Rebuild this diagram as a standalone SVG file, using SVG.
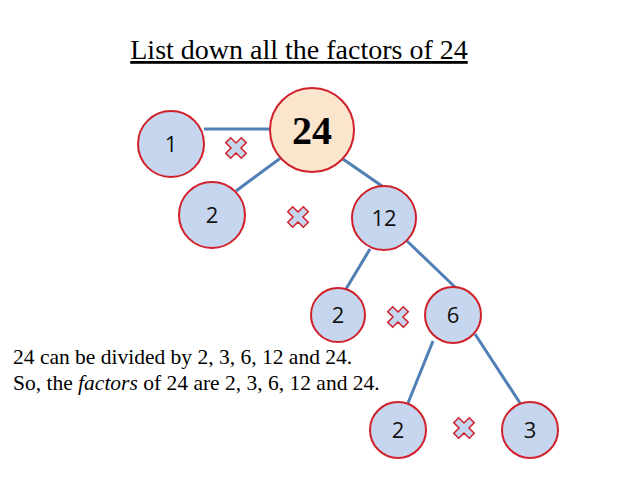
<svg xmlns="http://www.w3.org/2000/svg" width="638" height="479" viewBox="0 0 638 479">
<style>
.n{fill:#c6d6ee;stroke:#d0202a;stroke-width:2}
.t{font-family:"Open Sans","DejaVu Sans",sans-serif;font-size:22px;fill:#111;text-anchor:middle}
.s{font-family:"Liberation Serif",serif;fill:#000}
.x{fill:#c6d6ee;stroke:#d0202a;stroke-width:1.5}
#c line{stroke:#4f7fb5;stroke-width:3}
</style>
<defs><path id="X" d="M-3.5,-11 L3.5,-11 L3.5,-3.5 L11,-3.5 L11,3.5 L3.5,3.5 L3.5,11 L-3.5,11 L-3.5,3.5 L-11,3.5 L-11,-3.5 L-3.5,-3.5 Z" transform="rotate(45)"/></defs>
<rect width="638" height="479" fill="#fff"/>
<text class="s" x="299" y="59" font-size="28" text-anchor="middle" text-decoration="underline">List down all the factors of 24</text>
<g id="c">
<line x1="204" y1="129" x2="272" y2="129"/>
<line x1="282" y1="157" x2="236" y2="191"/>
<line x1="340" y1="157" x2="382" y2="186"/>
<line x1="370" y1="249" x2="346" y2="289"/>
<line x1="407" y1="241" x2="456" y2="288"/>
<line x1="433" y1="341" x2="408" y2="403"/>
<line x1="475" y1="334" x2="520" y2="403"/>
</g>
<g id="n24"><circle class="n" cx="312" cy="130" r="42" style="fill:#fce5cd"/><text x="312" y="144" font-family="Liberation Serif,serif" font-weight="bold" font-size="40" text-anchor="middle">24</text></g>
<g id="n1"><circle class="n" cx="171" cy="144" r="33"/><text class="t" x="171" y="152">1</text></g>
<g id="n2a"><circle class="n" cx="212" cy="215" r="33"/><text class="t" x="212" y="223">2</text></g>
<g id="n12"><circle class="n" cx="384" cy="218" r="32"/><text class="t" x="384" y="226">12</text></g>
<g id="n2b"><circle class="n" cx="338" cy="315" r="27"/><text class="t" x="338" y="323">2</text></g>
<g id="n6"><circle class="n" cx="453" cy="315" r="28"/><text class="t" x="453" y="323">6</text></g>
<g id="n2c"><circle class="n" cx="398" cy="430" r="28"/><text class="t" x="398" y="438">2</text></g>
<g id="n3"><circle class="n" cx="530" cy="430" r="28"/><text class="t" x="530" y="438">3</text></g>
<g id="crosses">
<use href="#X" class="x" x="236" y="148"/>
<use href="#X" class="x" x="298" y="217"/>
<use href="#X" class="x" x="398" y="317"/>
<use href="#X" class="x" x="464" y="428"/>
</g>
<g id="note" class="s" font-size="21.5">
<text x="13" y="364">24 can be divided by 2, 3, 6, 12 and 24.</text>
<text x="13" y="390">So, the <tspan font-style="italic">factors</tspan> of 24 are 2, 3, 6, 12 and 24.</text>
</g>
</svg>
